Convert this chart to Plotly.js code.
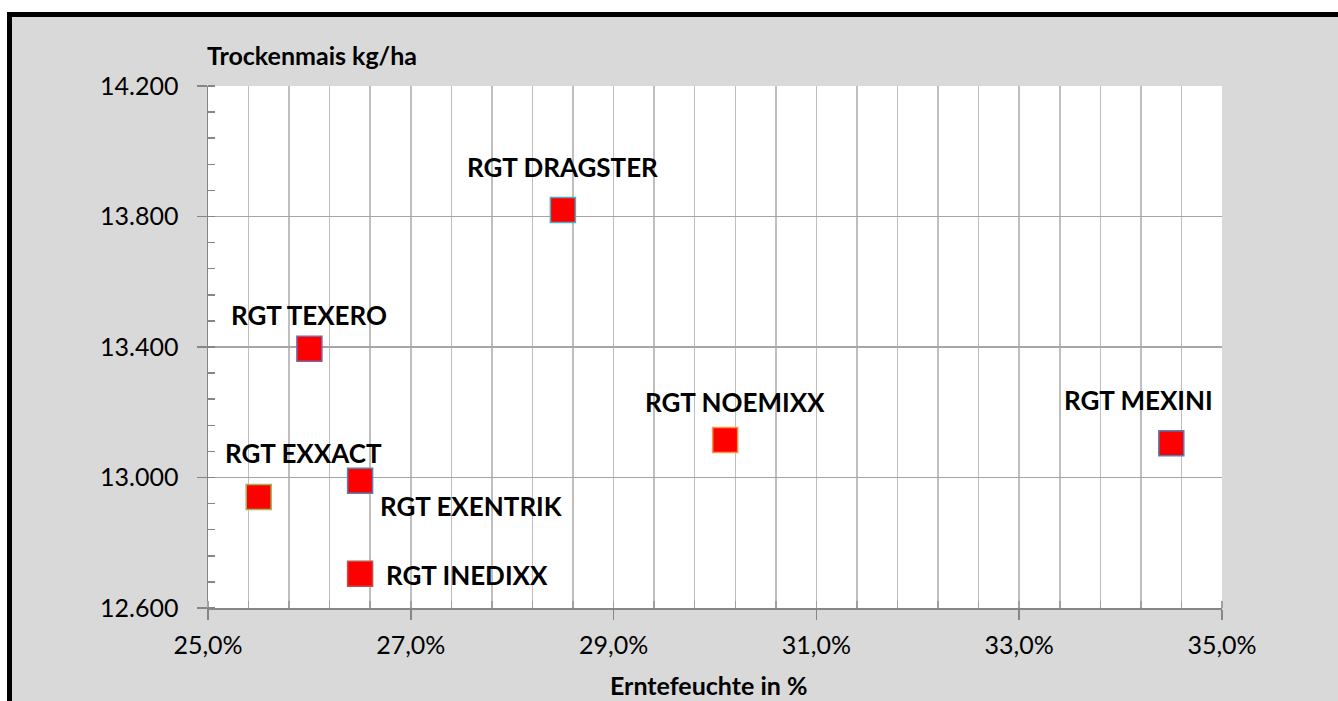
<!DOCTYPE html>
<html>
<head>
<meta charset="utf-8">
<script src="https://cdn.plot.ly/plotly-3.0.1.min.js"></script>
<style>
  html, body { margin: 0; padding: 0; background: #ffffff; width: 1338px; height: 701px; overflow: hidden; }
  #frame { position: absolute; left: 7px; top: 12px; width: 1331px; height: 689px;
           border-top: 5px solid #000; border-left: 5px solid #000; box-sizing: border-box; }
  #chart { position: absolute; left: 12px; top: 17px; width: 1326px; height: 684px; }
</style>
</head>
<body>
<div id="frame"></div>
<div id="chart"></div>
<script>
// Data
const varieties = ["RGT DRAGSTER", "RGT TEXERO", "RGT EXXACT", "RGT EXENTRIK", "RGT INEDIXX", "RGT NOEMIXX", "RGT MEXINI"];
const moisture = [28.5, 26.0, 25.5, 26.5, 26.5, 30.1, 34.5];          // Erntefeuchte in %
const yieldKg = [13820, 13395, 12940, 12990, 12705, 13115, 13105];      // Trockenmais kg/ha
const borderColors = ["#4bacc6", "#8064a2", "#9bbb59", "#4f81bd", "#c0504d", "#f79646", "#4f81bd"];
// label offsets (pixels) relative to each marker
const labelDX = [0, 0, 45, 111, 107, 10, -33];
const labelDY = [42, 33, 43, -26, -2, 37, 42];

const FONT = "Lato, 'Open Sans', sans-serif";

const trace = {
  type: "scatter",
  mode: "markers",
  x: moisture,
  y: yieldKg,
  text: varieties,
  hoverinfo: "text",
  marker: {
    symbol: "square",
    size: 25,
    color: "#ff0000",
    line: { color: borderColors, width: 1.5 }
  },
  showlegend: false
};

const annotations = varieties.map((name, i) => ({
  x: moisture[i], y: yieldKg[i], xref: "x", yref: "y",
  text: name, showarrow: false,
  xanchor: "center", yanchor: "middle",
  xshift: labelDX[i], yshift: labelDY[i] + 1,
  font: { family: FONT, size: 26, color: "#000", weight: "bold" }
}));

annotations.push({
  xref: "paper", yref: "paper", x: 0, y: 1,
  xanchor: "left", yanchor: "middle", yshift: 31, xshift: -3,
  text: "<b>Trockenmais kg/ha</b>", showarrow: false,
  font: { family: FONT, size: 25, color: "#000" }
});
annotations.push({
  xref: "paper", yref: "paper", x: 0.494, y: 0,
  xanchor: "center", yanchor: "middle", yshift: -77,
  text: "<b>Erntefeuchte in %</b>", showarrow: false,
  font: { family: FONT, size: 25, color: "#000" }
});

const layout = {
  width: 1326, height: 684,
  paper_bgcolor: "#d9d9d9",
  plot_bgcolor: "#ffffff",
  separators: ",.",
  margin: { l: 196, r: 116, t: 69, b: 93, pad: 0 },
  font: { family: FONT, size: 25, color: "#000" },
  xaxis: {
    range: [25, 35],
    dtick: 2, tick0: 25,
    tickformat: ".1f", ticksuffix: "%",
    showgrid: true, gridcolor: "#bfbfbf", gridwidth: 1.5,
    showline: true, linecolor: "#868686", linewidth: 1.5,
    ticks: "outside", ticklen: 10, tickwidth: 1.5, tickcolor: "#868686",
    ticklabelstandoff: 4,
    zeroline: false,
    minor: { dtick: 0.4, tick0: 25, showgrid: true, gridcolor: "#bfbfbf", gridwidth: 1.5,
             ticks: "inside", ticklen: 7, tickwidth: 1.5, tickcolor: "#a0a0a0" },
    tickfont: { family: FONT, size: 25, color: "#000" }
  },
  yaxis: {
    range: [12600, 14200],
    dtick: 400, tick0: 12600,
    tickformat: ",d",
    showgrid: true, gridcolor: "#a6a6a6", gridwidth: 1.5,
    showline: true, linecolor: "#868686", linewidth: 1.5,
    ticks: "outside", ticklen: 10, tickwidth: 1.5, tickcolor: "#868686",
    ticklabelstandoff: 13,
    zeroline: false,
    minor: { dtick: 80, tick0: 12600, showgrid: false,
             ticks: "inside", ticklen: 7, tickwidth: 1.5, tickcolor: "#868686" },
    tickfont: { family: FONT, size: 25, color: "#000" }
  },
  annotations: annotations
};

Plotly.newPlot("chart", [trace], layout, { displayModeBar: false, staticPlot: true });
</script>
</body>
</html>
